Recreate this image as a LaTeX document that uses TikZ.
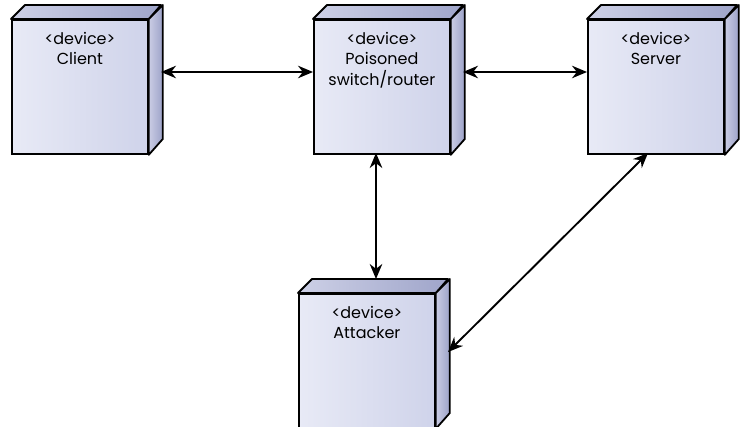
\documentclass[tikz,border=0pt]{standalone}
\usepackage{fontspec}
\setmainfont{Poppins}
\usetikzlibrary{arrows.meta}
\definecolor{frontL}{HTML}{E8EAF6}
\definecolor{frontR}{HTML}{CFD3EA}
\definecolor{topL}{HTML}{CDD0E6}
\definecolor{topR}{HTML}{9FA5CA}
\definecolor{sideL}{HTML}{CACDE4}
\definecolor{sideR}{HTML}{9DA3C9}
\tikzset{
  front/.style={draw=black, line width=1.8pt, left color=frontL, right color=frontR,
    minimum width=136pt, minimum height=134pt, anchor=north west, inner sep=0pt},
  topface/.style={draw=black, line width=1.8pt, line join=round, left color=topL, right color=topR},
  sideface/.style={draw=black, line width=1.8pt, line join=round, left color=sideL, right color=sideR},
  devlabel/.style={anchor=north, inner sep=0pt, align=center,
    font=\fontsize{16pt}{20.5pt}\selectfont},
  conn/.style={line width=1.9pt, {Stealth[length=15pt,width=12.5pt]}-{Stealth[length=15pt,width=12.5pt]}}
}
\newcommand{\devbox}[4]{%
  \node[front] (#1) at (#2,#3) {};
  \path[topface] (#1.north west) -- ++(14,-14) -- ++(136,0) -- (#1.north east) -- cycle;
  \path[sideface] (#1.north east) -- ++(14,-14) -- ++(0,134) -- (#1.south east) -- cycle;
  \node[devlabel] (#1-t) at ([yshift=-13pt]#1.north) {#4};
}
\begin{document}
\begin{tikzpicture}[x=1pt,y=-1pt]
\useasboundingbox (0,0) rectangle (743,427);
\devbox{client}{11}{19}{<device>\\Client}
\devbox{switch}{313}{19}{<device>\\Poisoned\\switch/router}
\devbox{server}{587}{19}{<device>\\Server}
\devbox{attacker}{298}{293}{<device>\\Attacker}
\coordinate (client-r) at (161,72);
\coordinate (switch-l) at (313,72);
\coordinate (switch-r) at (463,72);
\coordinate (server-l) at (587,72);
\coordinate (switch-b) at (376,153);
\coordinate (attacker-t) at (376,279);
\coordinate (server-b) at (648,153);
\coordinate (attacker-r) at (448,352);
\draw[conn] (client-r) -- (switch-l);
\draw[conn] (switch-r) -- (server-l);
\draw[conn] (switch-b) -- (attacker-t);
\draw[conn] (server-b) -- (attacker-r);
\end{tikzpicture}
\end{document}
